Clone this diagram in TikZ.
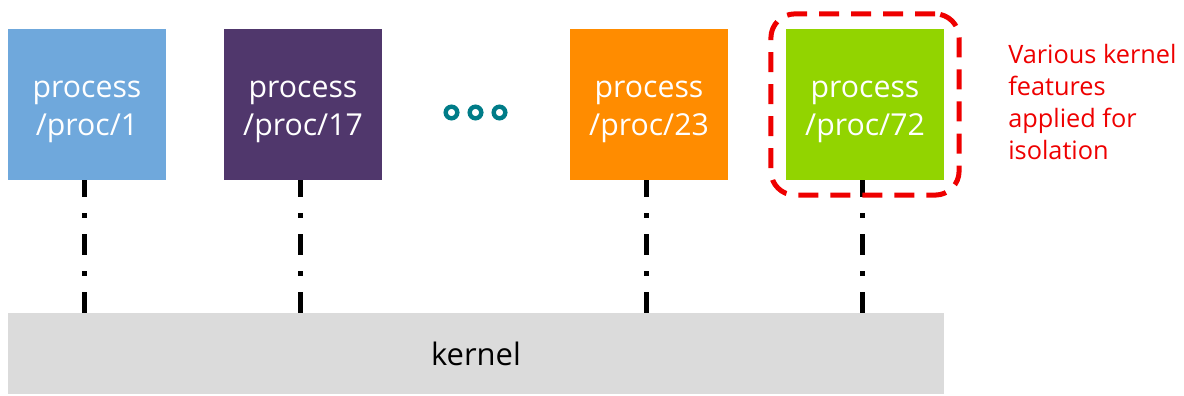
\documentclass[tikz,border=0pt]{standalone}
\usepackage{fontspec}
\setmainfont{Open Sans}
\usetikzlibrary{fit}

\definecolor{procblue}{RGB}{111,168,220}
\definecolor{procpurple}{RGB}{80,55,108}
\definecolor{procorange}{RGB}{255,140,0}
\definecolor{procgreen}{RGB}{146,212,0}
\definecolor{kernelgray}{RGB}{219,219,219}
\definecolor{dotteal}{RGB}{0,124,136}
\definecolor{isored}{RGB}{238,0,0}

\begin{document}
\begin{tikzpicture}[x=0.025cm, y=0.025cm,
    proc/.style={rectangle, inner sep=0, minimum width=3.95cm, text height=2.65cm, text depth=1.125cm, align=center, text=white, font=\fontsize{21.5}{27}\selectfont},
    kern/.style={rectangle, inner sep=0, fill=kernelgray, minimum width=23.4cm, minimum height=2.025cm, font=\fontsize{22}{27}\selectfont},
    link/.style={line width=0.125cm, dash pattern=on 0.525cm off 0.4cm on 0.125cm off 0.4cm},
    dot/.style={circle, draw=dotteal, line width=0.11cm, minimum size=0.29cm, inner sep=0},
    isolate/.style={rectangle, draw=isored, line width=0.125cm, rounded corners=0.6cm, dash pattern=on 0.5cm off 0.3cm, inner sep=0.37cm},
    note/.style={align=left, inner sep=0, text=isored, font=\fontsize{18}{22.8}\selectfont}
]
    \useasboundingbox (0,0) rectangle (1184,395);

    \node[proc, fill=procblue] (p1) at (87,290.5) {process\\/proc/1};
    \node[proc, fill=procpurple] (p17) at (303,290.5) {process\\/proc/17};
    \node[proc, fill=procorange] (p23) at (649,290.5) {process\\/proc/23};
    \node[proc, fill=procgreen] (p72) at (865,290.5) {process\\/proc/72};

    % the ones left out
    \node[dot] (d1) at (451.5,282.5) {};
    \node[dot] (d2) at (475.5,282.5) {};
    \node[dot] (d3) at (499.5,282.5) {};

    \node[kern] (kernel) at (476,41.5) {kernel};

    \foreach \p in {p1,p17,p23,p72}
        \draw[link] ([xshift=-0.0625cm]kernel.north -| \p.south) -- ([xshift=-0.0625cm]\p.south);

    \node[isolate, fit=(p72)] (iso) {};
    \node[note, anchor=north west] (notes) at (1008,351) {Various kernel\\features\\applied for\\isolation};
\end{tikzpicture}
\end{document}
